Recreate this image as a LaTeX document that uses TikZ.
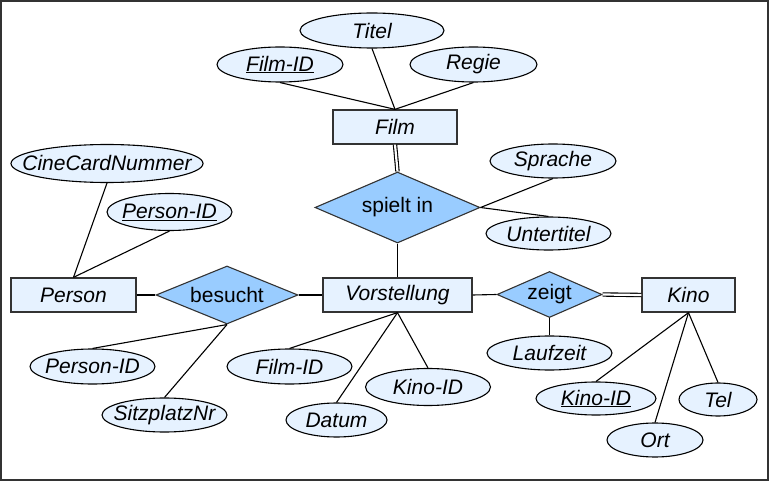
\documentclass[tikz,border=0pt]{standalone}
\usepackage{fontspec}
\setmainfont{Liberation Sans}
\usetikzlibrary{shapes.geometric}
\definecolor{entfill}{HTML}{E6F2FF}
\definecolor{relfill}{HTML}{99CCFF}
\definecolor{edgegray}{HTML}{333333}
\begin{document}
\begin{tikzpicture}[x=1pt,y=-1pt,
  every node/.style={inner sep=0pt, text=black},
  entity/.style={rectangle, draw=edgegray, fill=entfill, line width=1.3pt, minimum height=34pt, font=\fontsize{21}{25}\selectfont\itshape},
  attr/.style={ellipse, draw=black, fill=entfill, line width=1.1pt, inner xsep=-45pt, inner ysep=-9pt, minimum width=125pt, minimum height=35pt, font=\fontsize{21}{25}\selectfont\itshape},
  rel/.style={diamond, draw=edgegray, fill=relfill, line width=1.1pt, font=\fontsize{21}{25}\selectfont},
  conn/.style={line width=1.1pt, draw=black},
  dconn/.style={line width=1.1pt, double, double distance=2.2pt, draw=black}]
\useasboundingbox (0,0) rectangle (769,481);
\draw[edgegray, line width=2pt] (1,1) rectangle (767.7,480);

% entities
\node[entity, minimum width=124pt] (film) at (395,127) {Film};
\node[entity, minimum width=125pt] (person) at (73.5,295) {Person};
\node[entity, minimum width=149pt] (vorst) at (397.5,295) {Vorstellung};
\node[entity, minimum width=93pt] (kino) at (688.5,295) {Kino};

% relationships
\node[rel, minimum width=165pt, minimum height=71pt, aspect=2.3] (spielt) at (397.5,207.5) {spielt in};
\node[rel, minimum width=142pt, minimum height=58pt, aspect=2.45] (besucht) at (227,295) {besucht};
\node[rel, minimum width=105pt, minimum height=46pt, aspect=2.28] (zeigt) at (549.5,294.5) {zeigt};

% attributes
\node[attr, minimum width=144pt] (titel) at (372,30.5) {Titel};
\node[attr, minimum width=126pt] (filmid) at (280,64.5) {\underline{Film-ID}};
\node[attr, minimum width=127pt] (regie) at (473.5,64.5) {Regie};
\node[attr, minimum width=192pt, minimum height=38pt] (cine) at (107,163.5) {CineCardNummer};
\node[attr, minimum width=125pt, minimum height=37pt] (personid) at (169.5,212) {\underline{Person-ID}};
\node[attr, minimum width=126pt, minimum height=34pt] (sprache) at (553,161) {Sprache};
\node[attr, minimum width=125pt, minimum height=33pt] (unter) at (548.5,233.5) {Untertitel};
\node[attr] (personid2) at (92.5,366.5) {Person-ID};
\node[attr, minimum height=34pt] (sitz) at (164.5,415) {SitzplatzNr};
\node[attr] (filmid2) at (289.5,366.5) {Film-ID};
\node[attr, minimum width=101pt, minimum height=34pt] (datum) at (336.5,420) {Datum};
\node[attr, minimum height=37pt] (kinoid2) at (428,387) {Kino-ID};
\node[attr, minimum height=34pt] (laufzeit) at (549.5,353) {Laufzeit};
\node[attr, minimum width=120pt, minimum height=33pt] (kinoid) at (596,398.5) {\underline{Kino-ID}};
\node[attr, minimum width=78pt, minimum height=33pt] (tel) at (718,399.5) {Tel};
\node[attr, minimum width=96pt, minimum height=34pt] (ort) at (655,440) {Ort};

% connectors
\draw[conn] (titel.south) -- (film.north);
\draw[conn] (filmid.south) -- (film.north);
\draw[conn] (regie.south) -- (film.north);
\draw[dconn] (film.south) -- (spielt.north);
\draw[conn] (spielt.south) -- (vorst.north);
\draw[conn] (spielt.east) -- (sprache.south);
\draw[conn] (spielt.east) -- (unter.north);
\draw[conn] (cine.south) -- (person.north);
\draw[conn] (personid.south) -- (person.north);
\draw[conn] (person.east) -- (besucht.west);
\draw[conn] (besucht.east) -- (vorst.west);
\draw[conn] (besucht.south) -- (personid2.north);
\draw[conn] (besucht.south) -- (sitz.north);
\draw[conn] (vorst.south) -- (filmid2.north);
\draw[conn] (vorst.south) -- (datum.north);
\draw[conn] (vorst.south) -- (kinoid2.north);
\draw[conn] (vorst.east) -- (zeigt.west);
\draw[dconn] (zeigt.east) -- (kino.west);
\draw[conn] (zeigt.south) -- (laufzeit.north);
\draw[conn] (kino.south) -- (kinoid.north);
\draw[conn] (kino.south) -- (ort.north);
\draw[conn] (kino.south) -- (tel.north);
\end{tikzpicture}
\end{document}
